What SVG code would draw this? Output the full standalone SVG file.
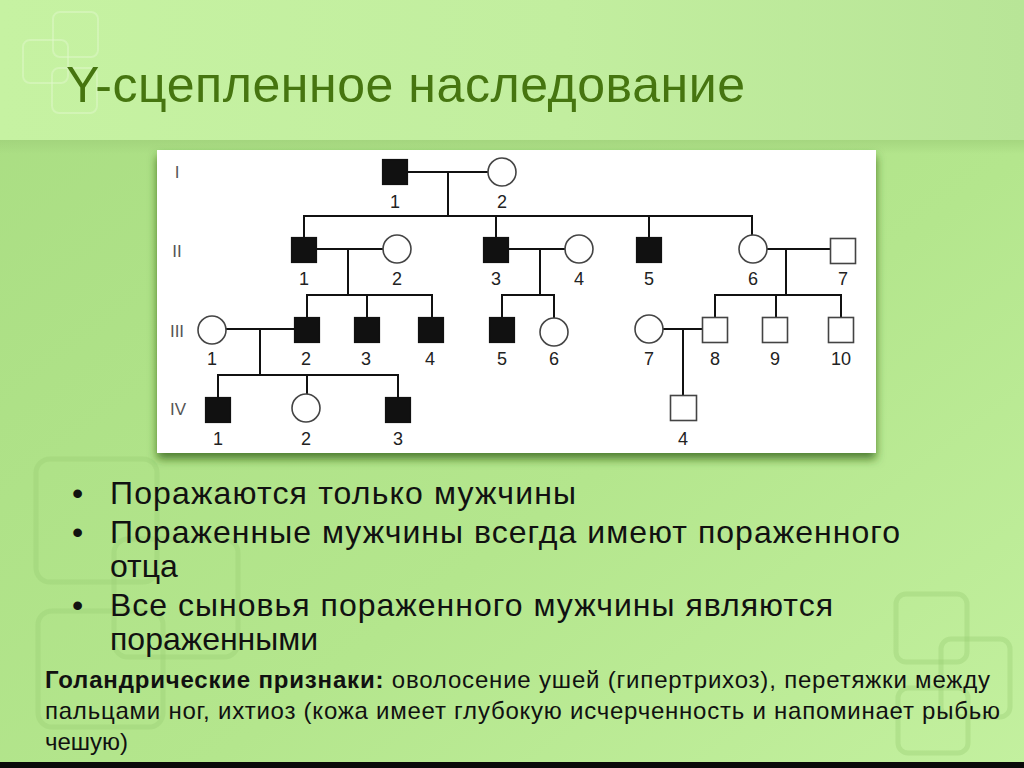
<svg xmlns="http://www.w3.org/2000/svg" width="1024" height="768" viewBox="0 0 1024 768">
<defs>
<linearGradient id="bgMain" x1="0" y1="0" x2="1" y2="1">
<stop offset="0" stop-color="#a9dd82"/>
<stop offset="0.6" stop-color="#b4e68d"/>
<stop offset="1" stop-color="#c3f09f"/>
</linearGradient>
<linearGradient id="bgTop" x1="0" y1="0" x2="1" y2="0">
<stop offset="0" stop-color="#c6f2a2"/>
<stop offset="0.55" stop-color="#c2ee9f"/>
<stop offset="1" stop-color="#b8e597"/>
</linearGradient>
<linearGradient id="topShade" x1="0" y1="0" x2="0" y2="1">
<stop offset="0" stop-color="#9fd07a" stop-opacity="0.7"/>
<stop offset="1" stop-color="#9fd07a" stop-opacity="0"/>
</linearGradient>
<filter id="shadow" x="-5%" y="-5%" width="110%" height="120%">
<feDropShadow dx="0" dy="6" stdDeviation="5" flood-color="#2f5c12" flood-opacity="0.75"/>
</filter>
<style>
.deco{fill:none;stroke:#9ccf76;stroke-width:5;opacity:0.4}
.decoT{fill:none;stroke:#e2f9cf;stroke-width:2;opacity:0.45}
.ln{stroke:#111;stroke-width:2;fill:none;stroke-linecap:square}
.aff{fill:#111;stroke:#111;stroke-width:1.2}
.un{fill:#fff;stroke:#444;stroke-width:1.6}
.num{font-family:"Liberation Sans",Arial,sans-serif;font-size:18px;fill:#222;text-anchor:middle}
.gen{font-family:"Liberation Sans",Arial,sans-serif;font-size:17px;fill:#555;text-anchor:middle}
.title{font-family:"Liberation Sans",Arial,sans-serif;font-size:50px;fill:#467510}
.bul{font-family:"Liberation Sans",Arial,sans-serif;font-size:32px;fill:#111}
.par{font-family:"Liberation Sans",Arial,sans-serif;font-size:24px;fill:#111}
</style>
</defs>

<!-- background -->
<rect x="0" y="0" width="1024" height="768" fill="url(#bgMain)"/>
<rect x="0" y="0" width="1024" height="140" fill="url(#bgTop)"/>
<rect x="0" y="140" width="1024" height="14" fill="url(#topShade)"/>
<rect x="0" y="762" width="1024" height="6" fill="#0a0a0a"/>

<!-- decorative rounded squares -->
<g id="decor">
<rect class="decoT" x="53" y="12" width="45" height="45" rx="7"/>
<rect class="decoT" x="23" y="40" width="45" height="43" rx="7"/>
<rect class="decoT" x="52" y="68" width="45" height="45" rx="7"/>
<rect class="deco" x="36" y="459" width="121" height="123" rx="14"/>
<rect class="deco" x="114" y="539" width="124" height="118" rx="14"/>
<rect class="deco" x="38" y="611" width="125" height="116" rx="14"/>
<rect class="deco" x="896" y="594" width="71" height="68" rx="10"/>
<rect class="deco" x="941" y="639" width="69" height="78" rx="10"/>
<rect class="deco" x="898" y="688" width="70" height="65" rx="10"/>
</g>

<!-- title -->
<text class="title" x="66" y="102" textLength="679">Y-сцепленное наследование</text>

<!-- pedigree panel -->
<rect id="panel" x="157" y="150" width="719" height="303" fill="#ffffff" filter="url(#shadow)"/>

<!-- generation labels -->
<g id="generations">
<text class="gen" x="177" y="178">I</text>
<text class="gen" x="177" y="257">II</text>
<text class="gen" x="177" y="337">III</text>
<text class="gen" x="178" y="415">IV</text>
</g>

<!-- connectors -->
<g id="connectors">
<path class="ln" d="M407 172 H488 M448 172 V216"/>
<path class="ln" d="M304 216 H752 M304 216 V238 M496 216 V238 M649 216 V237 M752 216 V235"/>
<path class="ln" d="M317 249 H383 M348 249 V295 M307 295 H432 M307 295 V317 M367 295 V317 M432 295 V317"/>
<path class="ln" d="M509 249 H565 M540 249 V295 M502 295 H554 M502 295 V317 M554 295 V318"/>
<path class="ln" d="M767 249 H830 M786 249 V295 M715 295 H841 M715 295 V317 M776 295 V317 M841 295 V317"/>
<path class="ln" d="M226 329 H293 M260 329 V375 M218 375 H398 M218 375 V397 M307 375 V394 M398 375 V397"/>
<path class="ln" d="M663 329 H702 M683 329 V395"/>
</g>

<!-- Generation I -->
<g id="I-1"><rect class="aff" x="382.5" y="159.5" width="25" height="25"/><text class="num" x="395" y="208">1</text></g>
<g id="I-2"><circle class="un" cx="502" cy="172" r="14"/><text class="num" x="502" y="208">2</text></g>

<!-- Generation II -->
<g id="II-1"><rect class="aff" x="291.5" y="237.5" width="25" height="25"/><text class="num" x="304" y="285">1</text></g>
<g id="II-2"><circle class="un" cx="397" cy="249" r="14"/><text class="num" x="397" y="285">2</text></g>
<g id="II-3"><rect class="aff" x="483.5" y="237.5" width="25" height="25"/><text class="num" x="496" y="285">3</text></g>
<g id="II-4"><circle class="un" cx="579" cy="249" r="14"/><text class="num" x="579" y="285">4</text></g>
<g id="II-5"><rect class="aff" x="636.5" y="237.5" width="25" height="25"/><text class="num" x="649" y="285">5</text></g>
<g id="II-6"><circle class="un" cx="753" cy="249" r="14"/><text class="num" x="753" y="285">6</text></g>
<g id="II-7"><rect class="un" x="830.5" y="238.5" width="25" height="25"/><text class="num" x="843" y="285">7</text></g>

<!-- Generation III -->
<g id="III-1"><circle class="un" cx="212" cy="330" r="14"/><text class="num" x="212" y="365">1</text></g>
<g id="III-2"><rect class="aff" x="294.5" y="317.5" width="25" height="25"/><text class="num" x="306" y="365">2</text></g>
<g id="III-3"><rect class="aff" x="354.5" y="317.5" width="25" height="25"/><text class="num" x="366" y="365">3</text></g>
<g id="III-4"><rect class="aff" x="418.5" y="317.5" width="25" height="25"/><text class="num" x="430" y="365">4</text></g>
<g id="III-5"><rect class="aff" x="489.5" y="317.5" width="25" height="25"/><text class="num" x="502" y="365">5</text></g>
<g id="III-6"><circle class="un" cx="554" cy="332" r="14"/><text class="num" x="554" y="365">6</text></g>
<g id="III-7"><circle class="un" cx="649" cy="329" r="14"/><text class="num" x="649" y="365">7</text></g>
<g id="III-8"><rect class="un" x="702.5" y="317.5" width="25" height="25"/><text class="num" x="715" y="365">8</text></g>
<g id="III-9"><rect class="un" x="762.5" y="317.5" width="25" height="25"/><text class="num" x="775" y="365">9</text></g>
<g id="III-10"><rect class="un" x="828.5" y="317.5" width="25" height="25"/><text class="num" x="841" y="365">10</text></g>

<!-- Generation IV -->
<g id="IV-1"><rect class="aff" x="205.5" y="397.5" width="25" height="25"/><text class="num" x="218" y="445">1</text></g>
<g id="IV-2"><circle class="un" cx="306" cy="408" r="14"/><text class="num" x="306" y="445">2</text></g>
<g id="IV-3"><rect class="aff" x="385.5" y="397.5" width="25" height="25"/><text class="num" x="398" y="445">3</text></g>
<g id="IV-4"><rect class="un" x="670.5" y="395.5" width="26" height="25"/><text class="num" x="683" y="445">4</text></g>

<!-- bullets -->
<g id="bullets">
<text class="bul" x="72" y="504">•</text>
<text class="bul" x="110" y="504" textLength="466">Поражаются только мужчины</text>
<text class="bul" x="72" y="543">•</text>
<text class="bul" x="110" y="543" textLength="790">Пораженные мужчины всегда имеют пораженного</text>
<text class="bul" x="110" y="577">отца</text>
<text class="bul" x="72" y="616">•</text>
<text class="bul" x="110" y="616" textLength="723">Все сыновья пораженного мужчины являются</text>
<text class="bul" x="110" y="650">пораженными</text>
</g>

<!-- paragraph -->
<g id="paragraph">
<text class="par" x="45" y="688" textLength="945"><tspan font-weight="bold">Голандрические признаки:</tspan> оволосение ушей (гипертрихоз), перетяжки между</text>
<text class="par" x="45" y="719" textLength="955">пальцами ног, ихтиоз (кожа имеет глубокую исчерченность и напоминает рыбью</text>
<text class="par" x="45" y="750">чешую)</text>
</g>
</svg>
